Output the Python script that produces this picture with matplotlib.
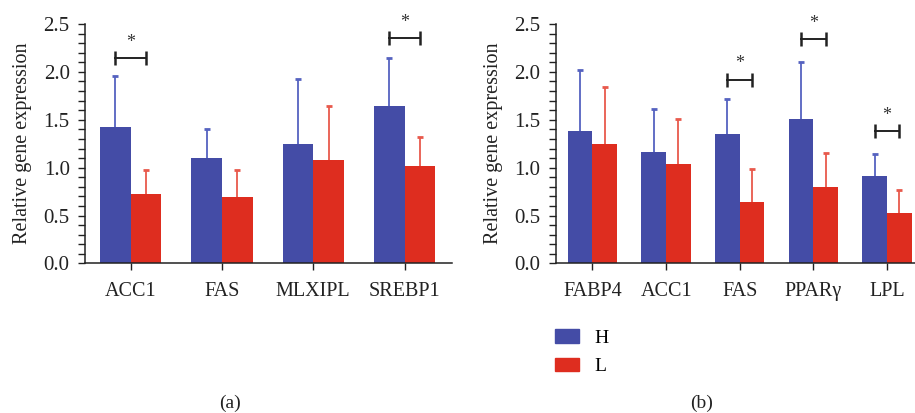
import matplotlib
matplotlib.use("Agg")
import matplotlib.pyplot as plt
from matplotlib.patches import Patch
from matplotlib.ticker import MultipleLocator, FormatStrFormatter
import numpy as np

plt.rcParams['font.family'] = ['Liberation Serif', 'DejaVu Serif']

# panel (a)
genes_a = ['ACC1', 'FAS', 'MLXIPL', 'SREBP1']
h_a = [1.42, 1.10, 1.25, 1.64]
h_a_err = [0.54, 0.30, 0.68, 0.51]
l_a = [0.73, 0.69, 1.08, 1.02]
l_a_err = [0.25, 0.29, 0.56, 0.30]
sig_a = [(0, 2.14), (3, 2.35)]  # (category index, bracket height)

# panel (b)
genes_b = ['FABP4', 'ACC1', 'FAS', 'PPARγ', 'LPL']
h_b = [1.38, 1.16, 1.35, 1.51, 0.91]
h_b_err = [0.64, 0.45, 0.37, 0.59, 0.23]
l_b = [1.25, 1.04, 0.64, 0.80, 0.53]
l_b_err = [0.59, 0.47, 0.35, 0.35, 0.24]
sig_b = [(2, 1.92), (3, 2.34), (4, 1.38)]

blue = '#444ca6'
red = '#de2d1f'
blue_err = '#5562c0'
red_err = '#e8594c'
w = 0.335
txt = '#222222'


def upper_err(ax, x, y, err, color):
    top = np.array(y) + np.array(err)
    ax.vlines(x, y, top, color=color, lw=1.3, zorder=1)
    ax.plot(x, top, ls='none', marker='_', ms=5, mew=2, color=color, zorder=1)


def panel(ax, genes, h, herr, l, lerr, sig, xmax):
    x = np.arange(len(genes))
    ax.bar(x - w / 2, h, w, color=blue, zorder=2)
    ax.bar(x + w / 2, l, w, color=red, zorder=2)
    upper_err(ax, x - w / 2, h, herr, blue_err)
    upper_err(ax, x + w / 2, l, lerr, red_err)
    for i, y in sig:
        ax.plot([i - w / 2, i + w / 2], [y, y], color=txt, lw=1.4,
                marker='|', ms=9.5, mew=1.8, clip_on=False)
        ax.annotate('*', xy=(i, y), xytext=(0, 8), textcoords='offset points',
                    ha='center', va='baseline', fontsize=13, color='#333333',
                    annotation_clip=False)
    ax.set_xlim(-0.5, xmax)
    ax.set_ylim(0, 2.5)
    ax.set_xticks(x)
    ax.set_xticklabels(genes)
    ax.yaxis.set_major_locator(MultipleLocator(0.5))
    ax.yaxis.set_minor_locator(MultipleLocator(0.1))
    ax.yaxis.set_major_formatter(FormatStrFormatter('%.1f'))
    ax.tick_params(axis='both', which='both', length=5, width=1, colors=txt)
    ax.tick_params(axis='y', labelsize=15, pad=6)
    ax.tick_params(axis='x', labelsize=14.5, pad=8)
    ax.set_ylabel('Relative gene expression', fontsize=14.5, color=txt, labelpad=8)
    for s in ['top', 'right']:
        ax.spines[s].set_visible(False)
    for s in ['left', 'bottom']:
        ax.spines[s].set_linewidth(1.1)
        ax.spines[s].set_color(txt)


fig = plt.figure(figsize=(9.15, 4.13), dpi=100)
ax1 = fig.add_axes([0.0929, 0.3620, 0.4011, 0.5799])
ax2 = fig.add_axes([0.6073, 0.3620, 0.3927, 0.5799])
panel(ax1, genes_a, h_a, h_a_err, l_a, l_a_err, sig_a, 3.52)
panel(ax2, genes_b, h_b, h_b_err, l_b, l_b_err, sig_b, 4.38)

handles = [Patch(color=blue, label='H'), Patch(color=red, label='L')]
fig.legend(handles=handles, loc='upper left', bbox_to_anchor=(0.598, 0.222),
           frameon=False, fontsize=14, handlelength=1.25, handleheight=0.72,
           handletextpad=0.8, labelspacing=0.55, borderaxespad=0)

fig.text(230 / 915, 1 - 403 / 413, '(a)', ha='center', va='center', fontsize=14,
         color=txt)
fig.text(702 / 915, 1 - 403 / 413, '(b)', ha='center', va='center', fontsize=14,
         color=txt)

fig.savefig('out.png', dpi=100)
